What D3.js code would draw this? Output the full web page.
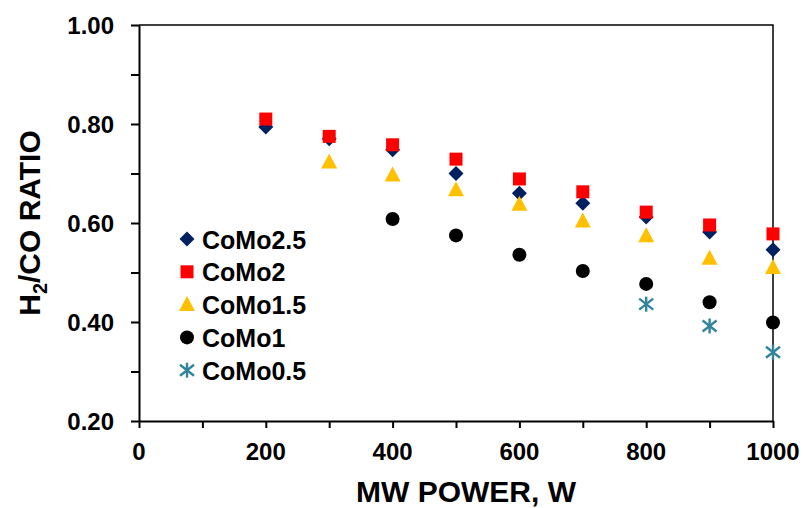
<!DOCTYPE html>
<html>
<head>
<meta charset="utf-8">
<script src="https://cdn.jsdelivr.net/npm/d3@7"></script>
<style>
  body { margin: 0; background: #fff; }
  svg text { font-family: "Liberation Sans", Arial, sans-serif; font-weight: bold; }
</style>
</head>
<body>
<svg id="chart" width="803" height="508"></svg>
<script>
// dati
const power = [200, 300, 400, 500, 600, 700, 800, 900, 1000];
const como25 = [0.794, 0.770, 0.748, 0.700, 0.660, 0.640, 0.612, 0.582, 0.546];
const como2 = [0.810, 0.775, 0.758, 0.729, 0.689, 0.663, 0.622, 0.596, 0.578];
const como15Power = [300, 400, 500, 600, 700, 800, 900, 1000];
const como15 = [0.723, 0.697, 0.667, 0.638, 0.604, 0.574, 0.529, 0.510];
const como1Power = [400, 500, 600, 700, 800, 900, 1000];
const como1 = [0.608, 0.575, 0.536, 0.503, 0.477, 0.440, 0.399];
const como05Power = [800, 900, 1000];
const como05 = [0.436, 0.392, 0.339];
const xTicks = [0, 200, 400, 600, 800, 1000];
const yTicks = [0.2, 0.4, 0.6, 0.8, 1.0];

const series = [
    { name: "CoMo2.5", x: power, y: como25, shape: "diamond", color: "#002060" },
    { name: "CoMo2", x: power, y: como2, shape: "square", color: "#ff0000" },
    { name: "CoMo1.5", x: como15Power, y: como15, shape: "triangle", color: "#ffc000" },
    { name: "CoMo1", x: como1Power, y: como1, shape: "circle", color: "#000000" },
    { name: "CoMo0.5", x: como05Power, y: como05, shape: "star", color: "#31849b" }
];

const svg = d3.select("#chart");
const plotLeft = 139, plotRight = 773, plotTop = 25, plotBottom = 421;

const x = d3.scaleLinear().domain([0, 1000]).range([plotLeft, plotRight]);
const y = d3.scaleLinear().domain([0.2, 1.0]).range([plotBottom, plotTop]);

/* disegna un marcatore centrato in (cx, cy) */
function marker(g, shape, color, cx, cy) {
    if (shape === "diamond") {
        g.append("path").attr("d", `M${cx},${cy - 7.5}L${cx + 7.5},${cy}L${cx},${cy + 7.5}L${cx - 7.5},${cy}Z`).attr("fill", color);
    } else if (shape === "square") {
        g.append("rect").attr("x", cx - 6.5).attr("y", cy - 6.5).attr("width", 13).attr("height", 13).attr("fill", color);
    } else if (shape === "triangle") {
        g.append("path").attr("d", `M${cx},${cy - 8.5}L${cx + 8},${cy + 6.5}L${cx - 8},${cy + 6.5}Z`).attr("fill", color);
    } else if (shape === "circle") {
        g.append("circle").attr("cx", cx).attr("cy", cy).attr("r", 7).attr("fill", color);
    } else {
        const s = g.append("g").attr("stroke", color).attr("stroke-width", 2.4);
        s.append("line").attr("x1", cx).attr("x2", cx).attr("y1", cy - 7.5).attr("y2", cy + 7.5);
        s.append("line").attr("x1", cx - 7).attr("x2", cx + 7).attr("y1", cy - 5.5).attr("y2", cy + 5.5);
        s.append("line").attr("x1", cx - 7).attr("x2", cx + 7).attr("y1", cy + 5.5).attr("y2", cy - 5.5);
    }
}

// assi
const xAxis = svg.append("g").attr("transform", `translate(0,${plotBottom})`)
    .call(d3.axisBottom(x).tickValues(d3.range(0, 1001, 100)).tickSize(7).tickSizeOuter(0).tickFormat(""));
const yAxis = svg.append("g").attr("transform", `translate(${plotLeft},0)`)
    .call(d3.axisLeft(y).tickValues(d3.range(2, 11).map(d => d / 10)).tickSize(8).tickSizeOuter(0).tickFormat(""));
[xAxis, yAxis].forEach(a => {
    a.select(".domain").attr("stroke", "#000").attr("stroke-width", 2);
    a.selectAll(".tick line").attr("stroke", "#000").attr("stroke-width", 2);
});

// bordo superiore e destro
svg.append("path")
    .attr("d", `M${plotLeft},${plotTop}H${plotRight}V${plotBottom}`)
    .attr("fill", "none").attr("stroke", "#000").attr("stroke-width", 1.5);

svg.append("g").selectAll("text").data(xTicks).join("text")
    .attr("x", d => x(d)).attr("y", 460)
    .attr("text-anchor", "middle").attr("font-size", 24)
    .text(d => d);

svg.append("g").selectAll("text").data(yTicks).join("text")
    .attr("x", 114).attr("y", d => y(d) + 8.5)
    .attr("text-anchor", "end").attr("font-size", 24)
    .text(d => d.toFixed(2));

// titoli
svg.append("text").attr("x", 466).attr("y", 502).attr("text-anchor", "middle")
    .attr("font-size", 30).text("MW POWER, W");

const yt = svg.append("text").attr("transform", "translate(40,223) rotate(-90)")
    .attr("text-anchor", "middle").attr("font-size", 30);
yt.append("tspan").text("H");
yt.append("tspan").attr("font-size", 20).attr("dy", 7).text("2");
yt.append("tspan").attr("dy", -7).text("/CO RATIO");

// punti
series.forEach(s => {
    const g = svg.append("g");
    s.x.forEach((v, i) => marker(g, s.shape, s.color, x(v), y(s.y[i])));
});

// legenda
series.forEach((s, i) => {
    const ly = 239 + i * 32.8;
    const g = svg.append("g");
    marker(g, s.shape, s.color, 187, ly);
    g.append("text").attr("x", 202).attr("y", ly + 9.5).attr("font-size", 25).text(s.name);
});
</script>
</body>
</html>
